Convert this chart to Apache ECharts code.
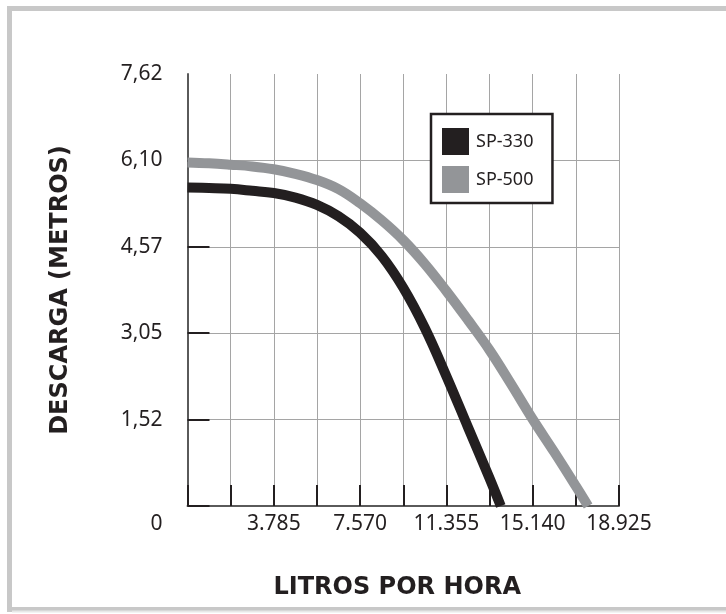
<!DOCTYPE html>
<html>
<head>
<meta charset="utf-8">
<script src="https://cdn.jsdelivr.net/npm/echarts@6/dist/echarts.min.js"></script>
<style>
html,body{margin:0;padding:0;background:#fff;}
#chart{width:726px;height:614px;}
</style>
</head>
<body>
<div id="chart"></div>
<script>
const seriesNames = ['SP-330', 'SP-500'];
const flowSteps = [0, 946.25, 1892.5, 2838.75, 3785, 4731.25, 5677.5, 6623.75, 7570, 8516.25, 9462.5, 10408.75, 11355, 12301.25, 13247.5, 14193.75, 15140, 16086.25, 17032.5];
const sp330Flow = flowSteps.slice(0, 15).concat([13740]);
const sp330Head = [5.62, 5.61, 5.595, 5.56, 5.52, 5.44, 5.31, 5.11, 4.82, 4.41, 3.85, 3.14, 2.29, 1.39, 0.49, 0];
const sp500Flow = flowSteps.concat([17570]);
const sp500Head = [6.06, 6.045, 6.02, 5.99, 5.94, 5.86, 5.75, 5.59, 5.34, 5.04, 4.69, 4.27, 3.79, 3.28, 2.75, 2.15, 1.53, 0.95, 0.35, 0];
const xLabelValues = [3785, 7570, 11355, 15140, 18925];
const xLabelTexts = ['3.785', '7.570', '11.355', '15.140', '18.925'];
const yTickValues = [0, 1.524, 3.048, 4.572, 6.096, 7.62];
const yTickLabels = ['0', '1,52', '3,05', '4,57', '6,10', '7,62'];

function pairs(xs, ys) { return xs.map((x, i) => [x, ys[i]]); }

const chart = echarts.init(document.getElementById('chart'));
const dark = '#231f20';
chart.setOption({
  backgroundColor: '#ffffff',
  animation: false,
  graphic: [
    { type: 'rect', shape: { x: 9.5, y: 8.5, width: 740, height: 601 }, style: { fill: 'none', stroke: '#c8c8c8', lineWidth: 5 }, z: 0 },
    { type: 'line', shape: { x1: 12, y1: 611.5, x2: 726, y2: 611.5 }, style: { stroke: '#e8e8e8', lineWidth: 2 }, z: 1 }
  ],
  grid: { left: 187.5, top: 74, width: 431.5, height: 432, containLabel: false },
  legend: {
    orient: 'vertical',
    left: 431, top: 114,
    data: seriesNames,
    icon: 'rect',
    itemWidth: 27, itemHeight: 27, itemGap: 11,
    padding: [14, 19, 10, 11],
    borderColor: dark, borderWidth: 2.5, backgroundColor: '#fff',
    textStyle: { fontFamily: 'Noto Sans', fontSize: 18, color: dark, padding: [0, 0, 0, 2] }
  },
  xAxis: {
    type: 'value', min: 0, max: 18925, interval: 1892.5,
    name: 'LITROS POR HORA', nameLocation: 'middle', nameGap: 70,
    nameTextStyle: { fontFamily: 'DejaVu Sans', fontWeight: 'bold', fontSize: 24, color: dark, padding: [0, 12, 0, 0] },
    axisLine: { show: true, lineStyle: { color: '#5a5a5a', width: 2 } },
    axisTick: { show: true, inside: true, length: 21, lineStyle: { color: dark, width: 2 } },
    splitLine: { show: true, lineStyle: { color: '#a5a5a5', width: 1 } },
    axisLabel: {
      margin: 8, fontFamily: 'Noto Sans', fontSize: 21, color: dark,
      showMinLabel: true, showMaxLabel: true,
      formatter: function (v) {
        const k = xLabelValues.findIndex(x => Math.abs(x - v) < 1);
        return k >= 0 ? xLabelTexts[k] : '';
      }
    }
  },
  yAxis: {
    type: 'value', min: 0, max: 7.62, interval: 1.524,
    name: 'DESCARGA (METROS)', nameLocation: 'middle', nameGap: 115, nameRotate: 90,
    nameTextStyle: { fontFamily: 'DejaVu Sans', fontWeight: 'bold', fontSize: 24, color: dark },
    axisLine: { show: true, lineStyle: { color: '#5a5a5a', width: 2 } },
    axisTick: { show: true, inside: true, length: 22, customValues: yTickValues.slice(0, 5), lineStyle: { color: dark, width: 2 } },
    splitLine: { show: true, lineStyle: { color: '#a5a5a5', width: 1 } },
    axisLabel: {
      margin: 25, fontFamily: 'Noto Sans', fontSize: 21, color: dark,
      showMinLabel: true, showMaxLabel: true,
      formatter: function (v) {
        const k = Math.round(v / 1.524);
        return k === 0 ? '{z|' + yTickLabels[0] + '}' : yTickLabels[k];
      },
      rich: { z: { fontFamily: 'Noto Sans', fontSize: 21, color: dark, padding: [36, 0, 0, 0] } }
    }
  },
  series: [
    {
      name: seriesNames[0], type: 'line', data: pairs(sp330Flow, sp330Head),
      smooth: 0.4, symbol: 'none', clip: true, z: 3,
      lineStyle: { color: dark, width: 10, cap: 'butt', join: 'round' }, itemStyle: { color: dark }
    },
    {
      name: seriesNames[1], type: 'line', data: pairs(sp500Flow, sp500Head),
      smooth: 0.4, symbol: 'none', clip: true, z: 2,
      lineStyle: { color: '#939598', width: 10, cap: 'butt', join: 'round' }, itemStyle: { color: '#939598' }
    }
  ]
});
</script>
</body>
</html>
